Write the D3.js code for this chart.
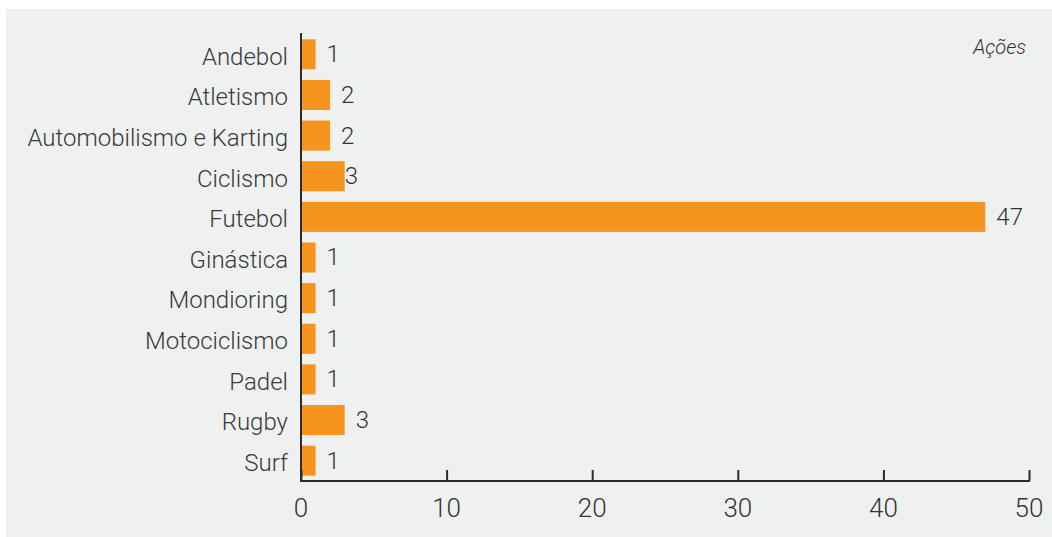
<!DOCTYPE html>
<html>
<head>
<meta charset="utf-8">
<script src="https://cdn.jsdelivr.net/npm/d3@7"></script>
<style>
  html, body { margin: 0; padding: 0; background: #fff; }
  svg { display: block; font-family: Roboto, sans-serif; font-weight: 300; }
</style>
</head>
<body>
<div id="chart"></div>
<script>
var categories = ["Andebol", "Atletismo", "Automobilismo e Karting", "Ciclismo", "Futebol",
  "Ginástica", "Mondioring", "Motociclismo", "Padel", "Rugby", "Surf"];
var values = [1, 2, 2, 3, 47, 1, 1, 1, 1, 3, 1];
var xTicks = [0, 10, 20, 30, 40, 50];
var unitLabel = "Ações";

var width = 1052, height = 537;
var svg = d3.select("#chart").append("svg")
  .attr("width", width)
  .attr("height", height);

// grey panel
svg.append("rect")
  .attr("x", 6).attr("y", 9)
  .attr("width", width - 6).attr("height", height - 9)
  .attr("fill", "#eff1f0");

var x = d3.scaleLinear().domain([0, 50]).range([301, 1029]);
var y = d3.scaleBand().domain(categories).range([34, 481])
  .paddingInner(0.26).paddingOuter(0.13);

var data = categories.map((c, i) => ({name: c, value: values[i]}));

svg.selectAll("rect.bar")
  .data(data)
  .enter().append("rect")
  .attr("class", "bar")
  .attr("x", x(0))
  .attr("y", d => y(d.name))
  .attr("width", d => x(d.value) - x(0))
  .attr("height", y.bandwidth())
  .attr("fill", "#f7941d");

// value labels (Ciclismo's sits right on the bar end in the original)
svg.selectAll("text.val")
  .data(data)
  .enter().append("text")
  .attr("class", "val")
  .attr("x", d => x(d.value) + (d.name == "Ciclismo" ? 0 : 11))
  .attr("y", d => y(d.name) + y.bandwidth() / 2)
  .attr("dy", "0.33em")
  .attr("font-size", 24)
  .attr("fill", "#333")
  .text(d => d.value);

// category labels
svg.selectAll("text.cat")
  .data(data)
  .enter().append("text")
  .attr("class", "cat")
  .attr("x", 288)
  .attr("y", d => y(d.name) + y.bandwidth() / 2)
  .attr("dy", "0.43em")
  .attr("text-anchor", "end")
  .attr("font-size", 24)
  .attr("fill", "#3a3a3a")
  .text(d => d.name);

// y axis line
svg.append("line")
  .attr("x1", x(0)).attr("x2", x(0))
  .attr("y1", 33).attr("y2", 482)
  .attr("stroke", "#2b2b2b").attr("stroke-width", 2);

// x axis
var xAxis = svg.append("g")
  .attr("transform", "translate(0,481)")
  .call(d3.axisTop(x).tickValues(xTicks).tickSize(11).tickFormat(""));
xAxis.select(".domain").remove();
xAxis.selectAll("line").attr("stroke", "#2b2b2b").attr("stroke-width", 2);
xAxis.append("line")
  .attr("x1", x(0) - 1).attr("x2", x(50) + 1)
  .attr("stroke", "#2b2b2b").attr("stroke-width", 2);

svg.selectAll("text.tick")
  .data(xTicks)
  .enter().append("text")
  .attr("class", "tick")
  .attr("x", d => x(d))
  .attr("y", 517)
  .attr("text-anchor", "middle")
  .attr("font-size", 26)
  .attr("fill", "#333")
  .text(d => d);

svg.append("text")
  .attr("x", 1026).attr("y", 54)
  .attr("text-anchor", "end")
  .attr("font-size", 20)
  .attr("font-style", "italic")
  .attr("fill", "#333")
  .text(unitLabel);
</script>
</body>
</html>
